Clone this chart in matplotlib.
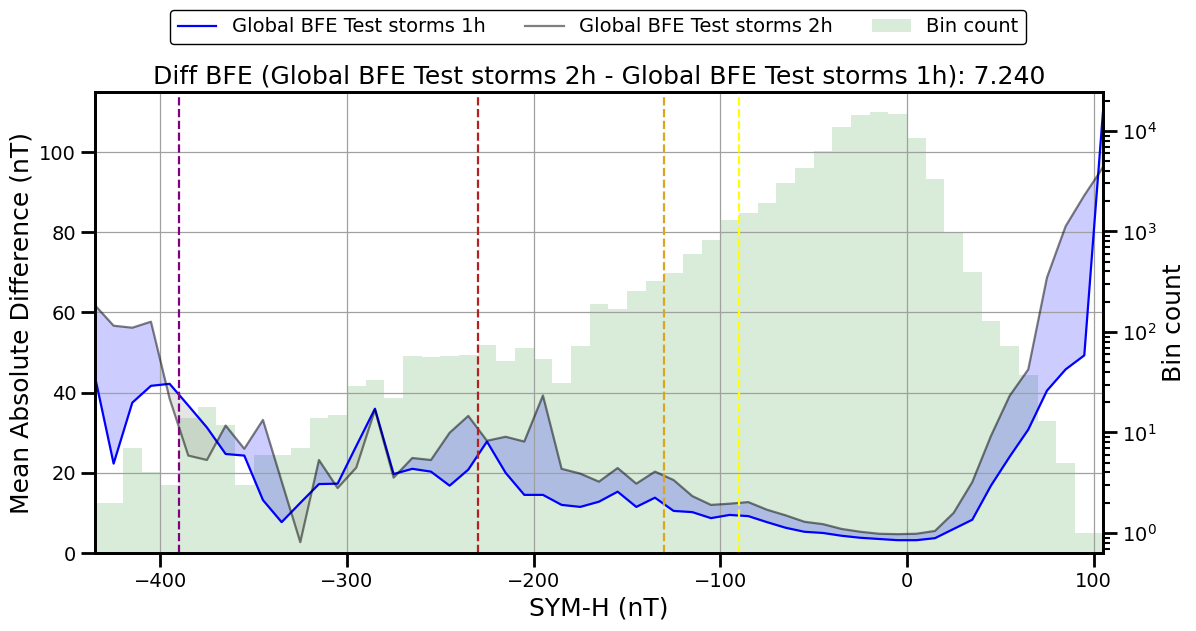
import numpy as np
import matplotlib
matplotlib.use("Agg")
import matplotlib.pyplot as plt

# bin centres of SYM-H (nT), 10 nT bins from -440 to 110
sym_h = np.arange(-435, 106, 10)

mad_1h = [44.0, 22.3, 37.5, 41.7, 42.2, 36.8, 31.3, 24.7, 24.3, 13.2,
          7.7, 12.5, 17.2, 17.3, 26.7, 36.0, 19.7, 21.0, 20.3, 16.8,
          20.8, 27.8, 20.0, 14.5, 14.5, 12.0, 11.5, 12.8, 15.3, 11.5,
          13.8, 10.5, 10.2, 8.7, 9.5, 9.2, 7.7, 6.3, 5.3, 5.0,
          4.3, 3.8, 3.5, 3.2, 3.2, 3.7, 6.0, 8.3, 16.8, 24.0,
          30.8, 40.5, 45.8, 49.3, 110.0]

mad_2h = [61.8, 56.7, 56.2, 57.7, 38.5, 24.3, 23.2, 31.8, 26.0, 33.2,
          17.9, 2.7, 23.2, 16.2, 21.3, 35.7, 18.8, 23.7, 23.2, 30.0,
          34.2, 28.0, 29.0, 27.8, 39.3, 21.0, 19.8, 17.8, 21.2, 17.3,
          20.3, 18.2, 14.2, 12.0, 12.3, 12.7, 10.8, 9.4, 7.8, 7.2,
          6.0, 5.3, 4.8, 4.7, 4.8, 5.5, 10.0, 17.7, 29.2, 39.2,
          45.8, 68.7, 81.5, 89.2, 96.2]

bin_count = [2, 2, 7, 4, 3, 14, 18, 12, 3, 6,
             6, 7, 14, 15, 29, 33, 22, 58, 56, 57,
             59, 75, 51, 69, 54, 31, 72, 188, 171, 253,
             318, 383, 591, 815, 1290, 1515, 1905, 3010, 4250, 6280,
             10900, 14300, 15350, 14760, 8450, 3325, 995, 392, 128, 72,
             37, 13, 5, 1, 1]

vlines = [(-390, "purple"), (-230, "firebrick"), (-130, "goldenrod"), (-90, "yellow")]

label_1h = "Global BFE Test storms 1h"
label_2h = "Global BFE Test storms 2h"
diff_bfe = 7.240

plt.rcParams["font.family"] = "DejaVu Sans"

fig, ax = plt.subplots(figsize=(11.96, 6.31), dpi=100)
fig.subplots_adjust(left=0.0794, right=0.9222, top=0.8542, bottom=0.1236)

ax2 = ax.twinx()
ax2.bar(sym_h, bin_count, width=10, color="green", alpha=0.15, label="Bin count")
ax2.set_yscale("log")
ax2.set_ylim(0.632, 24400)
ax2.set_ylabel("Bin count", fontsize=18)

# lines on top of the histogram
ax.set_zorder(ax2.get_zorder() + 1)
ax.patch.set_visible(False)

y1 = np.array(mad_1h)
y2 = np.array(mad_2h)
ax.fill_between(sym_h, y1, y2, where=y2 >= y1, interpolate=True, color="blue", alpha=0.2, lw=0)
ax.fill_between(sym_h, y1, y2, where=y2 < y1, interpolate=True, color="gray", alpha=0.2, lw=0)
ax.plot(sym_h, y1, color="blue", lw=1.6, label=label_1h)
ax.plot(sym_h, y2, color="k", alpha=0.5, lw=1.6, label=label_2h)

for xv, c in vlines:
    ax.axvline(xv, color=c, ls="--", lw=1.6)

ax.set_xlim(-435, 105)
ax.set_ylim(0, 115)
ax.set_yticks([0, 20, 40, 60, 80, 100])
ax.grid(True, color="#a0a0a0", lw=0.9)
ax.set_xlabel("SYM-H (nT)", fontsize=18)
ax.set_ylabel("Mean Absolute Difference (nT)", fontsize=18)
ax.set_title(f"Diff BFE ({label_2h} - {label_1h}): {diff_bfe:.3f}", fontsize=18)

for a in (ax, ax2):
    a.tick_params(which="major", labelsize=14, length=10, width=2)
    a.tick_params(which="minor", length=5, width=1.5)
    for s in a.spines.values():
        s.set_linewidth(2)

h1, l1 = ax.get_legend_handles_labels()
h2, l2 = ax2.get_legend_handles_labels()
leg = ax.legend(h1 + h2, l1 + l2, loc="upper center", ncol=3, fontsize=14,
                bbox_to_anchor=(0.5, 1.0), bbox_transform=fig.transFigure,
                framealpha=1, edgecolor="k")

fig.savefig("out.png", dpi=100)
